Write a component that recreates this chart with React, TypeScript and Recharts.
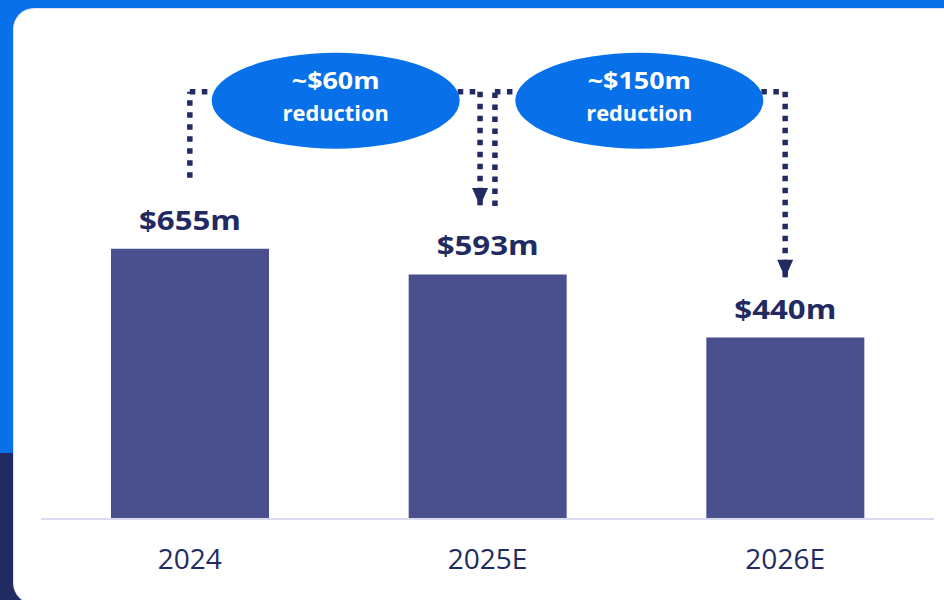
import React from "react";
import {
  BarChart,
  Bar,
  XAxis,
  YAxis,
  LabelList,
  ReferenceLine,
  ReferenceDot,
} from "recharts";

const years = ["2024", "2025E", "2026E"];
const costs = [655, 593, 440];
const reductionLabels = ["~$60m", "~$150m"];

const data = years.map((year, i) => ({ year, cost: costs[i], pos: i }));

const BLUE = "#0870e9";
const NAVY = "#222a62";
const BAR = "#4a4f8d";
const FONT = "'Open Sans', 'Noto Sans', sans-serif";

// bracket layout in chart units (x = category index, y = value axis)
const LEVEL = 1036;
const BUBBLE_Y = 1014;
const BUBBLE_HALF = 0.41;
const brackets = [
  { from: 0, to: 0.975, fromBottom: 827, toBottom: 759, mid: 0.49 },
  { from: 1.025, to: 2, fromBottom: 759, toBottom: 585, mid: 1.51 },
];

const dotted = {
  stroke: NAVY,
  strokeWidth: 5.5,
  strokeDasharray: "5.5 6.5",
  xAxisId: "pos",
  ifOverflow: "visible" as const,
};

function ValueLabel(props: any) {
  const { x, y, width, value } = props;
  const cx = Number(x) + Number(width) / 2;
  return (
    <text
      transform={`translate(${cx} ${Number(y) - 19}) scale(1.2 1)`}
      textAnchor="middle"
      fill={NAVY}
      fontFamily={FONT}
      fontWeight={700}
      fontSize={26}
    >
      {`$${value}m`}
    </text>
  );
}

function YearTick(props: any) {
  const { x, y, payload } = props;
  return (
    <text
      x={x}
      y={Number(y) + 50}
      textAnchor="middle"
      fill={NAVY}
      fontFamily={FONT}
      fontSize={28}
    >
      {payload.value}
    </text>
  );
}

function Bubble(label: string) {
  return (props: any) => {
    const { cx, cy } = props;
    return (
      <g>
        <ellipse cx={cx} cy={cy} rx={124} ry={48} fill={BLUE} />
        <text
          transform={`translate(${cx} ${cy - 12}) scale(1.12 1)`}
          textAnchor="middle"
          fill="#fff"
          fontFamily={FONT}
          fontWeight={700}
          fontSize={24}
        >
          {label}
        </text>
        <text
          transform={`translate(${cx} ${cy + 20}) scale(1.04 1)`}
          textAnchor="middle"
          fill="#fff"
          fontFamily={FONT}
          fontWeight={700}
          fontSize={21}
        >
          reduction
        </text>
      </g>
    );
  };
}

function ArrowHead(props: any) {
  const { cx, cy } = props;
  return (
    <polygon
      points={`${cx - 8},${cy - 18} ${cx + 8},${cy - 18} ${cx},${cy}`}
      fill={NAVY}
    />
  );
}

export default function App() {
  return (
    <div
      style={{
        position: "absolute",
        left: 0,
        top: 0,
        width: 944,
        height: 600,
        overflow: "hidden",
        background: `linear-gradient(${BLUE} 0, ${BLUE} 453px, ${NAVY} 453px)`,
      }}
    >
      <div
        style={{
          position: "absolute",
          left: 14,
          top: 9,
          width: 960,
          height: 594,
          borderRadius: 20,
          background: "#fff",
          boxShadow: "0 0 0 1px #dfe1f5",
        }}
      />
      <div style={{ position: "absolute", left: 0, top: 0 }}>
        <BarChart
          width={944}
          height={600}
          data={data}
          margin={{ top: 24, right: 10, bottom: 0, left: 41 }}
        >
          <XAxis
            dataKey="year"
            height={81}
            tickLine={false}
            tickSize={0}
            tickMargin={0}
            axisLine={{ stroke: "#dcdcf0", strokeWidth: 2 }}
            tick={<YearTick />}
          />
          <XAxis
            xAxisId="pos"
            dataKey="pos"
            type="number"
            domain={[-0.5, 2.5]}
            allowDataOverflow
            hide
          />
          <YAxis hide domain={[0, 1200]} allowDataOverflow />
          <Bar dataKey="cost" fill={BAR} barSize={158} isAnimationActive={false}>
            <LabelList dataKey="cost" content={<ValueLabel />} />
          </Bar>
          {brackets.map((b, i) => (
            <ReferenceLine
              key={`l${i}`}
              {...dotted}
              segment={[
                { x: b.from, y: b.fromBottom },
                { x: b.from, y: LEVEL },
              ]}
            />
          ))}
          {brackets.map((b, i) => (
            <ReferenceLine
              key={`a${i}`}
              {...dotted}
              segment={[
                { x: b.from, y: LEVEL },
                { x: b.mid - BUBBLE_HALF, y: LEVEL },
              ]}
            />
          ))}
          {brackets.map((b, i) => (
            <ReferenceLine
              key={`b${i}`}
              {...dotted}
              segment={[
                { x: b.mid + BUBBLE_HALF, y: LEVEL },
                { x: b.to, y: LEVEL },
              ]}
            />
          ))}
          {brackets.map((b, i) => (
            <ReferenceLine
              key={`r${i}`}
              {...dotted}
              segment={[
                { x: b.to, y: LEVEL },
                { x: b.to, y: b.toBottom },
              ]}
            />
          ))}
          {brackets.map((b, i) => (
            <ReferenceDot
              key={`h${i}`}
              xAxisId="pos"
              x={b.to}
              y={b.toBottom}
              r={8}
              ifOverflow="visible"
              shape={ArrowHead}
            />
          ))}
          {brackets.map((b, i) => (
            <ReferenceDot
              key={`e${i}`}
              xAxisId="pos"
              x={b.mid}
              y={BUBBLE_Y}
              r={40}
              ifOverflow="visible"
              shape={Bubble(reductionLabels[i])}
            />
          ))}
        </BarChart>
      </div>
    </div>
  );
}
